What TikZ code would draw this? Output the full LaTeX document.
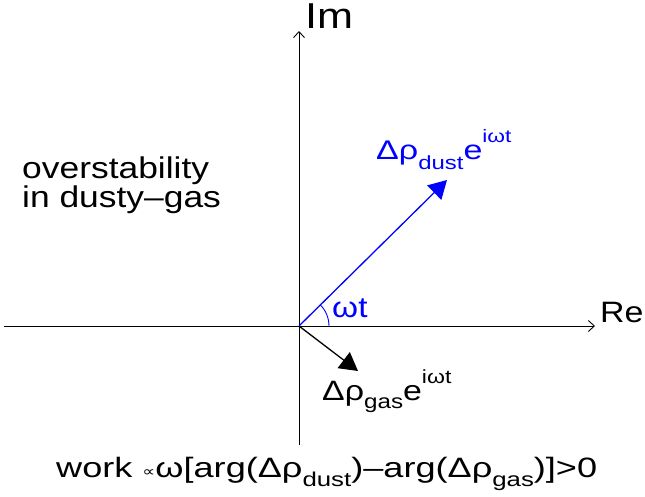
\documentclass[tikz,border=0pt]{standalone}
\usepackage{fontspec}
\setmainfont{Liberation Sans}
\newfontfamily\symfont{DejaVu Sans}
\usetikzlibrary{arrows.meta}
\newcommand\fs[1]{\fontsize{#1}{#1}\selectfont}
\newcommand\lowtxt[3]{\raisebox{-#1pt}{\fs{#2}#3}}
\newcommand\hightxt[3]{\raisebox{#1pt}{\fs{#2}#3}}
\newcommand\wide[2]{\scalebox{#1}[1]{#2}}
\tikzset{
  axis/.style={line width=0.9pt, -{Straight Barb[length=6pt,width=11pt,line width=0.9pt]}},
  plainaxis/.style={line width=0.9pt},
  vec/.style={line width=1.3pt, -{Triangle[length=18pt,width=20pt]}},
  lbl/.style={inner sep=0pt, anchor=base west},
}
\begin{document}
\begin{tikzpicture}[x=1pt,y=-1pt]
\useasboundingbox (0,0) rectangle (645,496);
\coordinate (O) at (299,326);
\coordinate (xL) at (4,326);
\coordinate (xR) at (595,326);
\coordinate (yB) at (299,445);
\coordinate (yT) at (299,31);
\coordinate (dustTip) at (447,180);
\coordinate (gasTip) at (358,371);
% axes
\draw[plainaxis] (xL) -- (O);
\draw[axis] (O) -- (xR);
\draw[plainaxis] (yB) -- (O);
\draw[axis] (O) -- (yT);
% vectors
\draw[vec, blue] (O) -- (dustTip);
\draw[vec, black] (O) -- (gasTip);
% angle
\draw[blue, line width=0.9pt] ([xshift=30pt]O) arc[start angle=0, end angle=45, radius=30pt];
% labels
\node[lbl] (im) at (305,28) {\wide{1.2}{\fs{36}Im}};
\node[lbl] (re) at (600,322) {\wide{1.15}{\fs{29.5}Re}};
\node[lbl] (title) at (22,178) {\wide{1.18}{\fs{30}overstability}};
\node[lbl] (title2) at (22,207) {\wide{1.18}{\fs{30}in dusty–gas}};
\node[lbl, text=blue] (wt) at (332,317) {\wide{1.15}{\fs{29}ωt}};
\node[lbl, text=blue] (dustlbl) at (376,159) {\wide{1.26}{\fs{27}Δρ\lowtxt{10}{19}{dust}e\hightxt{17}{18}{iωt}}};
\node[lbl] (gaslbl) at (322,400) {\wide{1.21}{\fs{28}Δρ\lowtxt{8}{20}{gas}e\hightxt{17}{19}{iωt}}};
\node[lbl] (work) at (56,477) {\wide{1.29}{\fs{28}work {\symfont\fs{14}\raisebox{1pt}{∝}}ω[arg(Δρ\lowtxt{9}{20}{dust})–arg(Δρ\lowtxt{9}{20}{gas})]>0}};
\end{tikzpicture}
\end{document}
